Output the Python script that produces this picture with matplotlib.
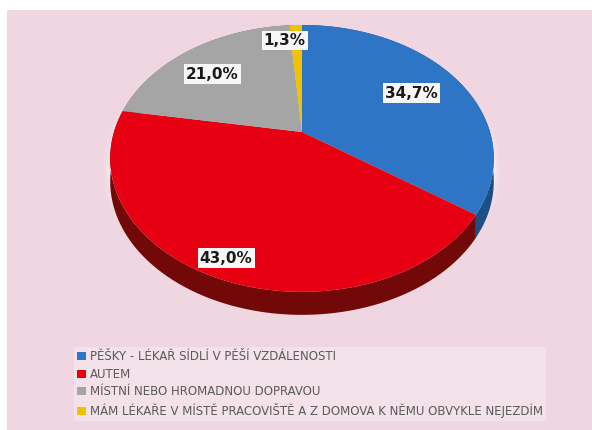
import numpy as np
import matplotlib.pyplot as plt
from matplotlib.patches import Patch, Rectangle

labels = ['PĚŠKY - LÉKAŘ SÍDLÍ V PĚŠÍ VZDÁLENOSTI',
          'AUTEM',
          'MÍSTNÍ NEBO HROMADNOU DOPRAVOU',
          'MÁM LÉKAŘE V MÍSTĚ PRACOVIŠTĚ A Z DOMOVA K NĚMU OBVYKLE NEJEZDÍM']
shares = [34.7, 43.0, 21.0, 1.3]
pct_text = ['34,7%', '43,0%', '21,0%', '1,3%']
colors = ['#2E75C6', '#E60012', '#A5A5A5', '#F2C200']
side_colors = ['#1D4E86', '#720808', '#6E6E6E', '#A08000']

# label placement on the disk (radius, angle nudge in degrees)
label_r = [0.70, 0.89, 0.72, 0.84]
label_dang = [0, 0, 4, 5]

W, H = 592, 430
fig = plt.figure(figsize=(W / 100, H / 100), dpi=100)
fig.patch.set_facecolor('white')
fig.add_artist(Rectangle((7 / W, 0), 1 - 7 / W, 1 - 10 / H, transform=fig.transFigure,
                         facecolor='#EFD6E0', edgecolor='none', zorder=-10))

ax = fig.add_axes([0, 0, 1, 1])
ax.set_xlim(0, W)
ax.set_ylim(H, 0)
ax.axis('off')

# perspective view of a tilted disk
cx, cy = 302, 132     # apex of the slices
sx, sy = 188, 128.2   # scale
persp = 0.198         # far side shrinks
depth = 23            # thickness of the pie


def proj(x, y):
    w = 1 + persp * y
    return cx + sx * x / w, cy - sy * y / w


bounds = 90 - 360 * np.concatenate([[0], np.cumsum(shares)]) / 100.0

# soft light halo around the pie
t_all = np.deg2rad(np.linspace(0, 360, 400))
hx, hy = proj(np.cos(t_all), np.sin(t_all))
for lw, al in [(10, 0.12), (6, 0.18), (3, 0.25)]:
    ax.plot(hx, hy + depth / 2, color='white', lw=lw, alpha=al, zorder=0)

# sides first, then top faces
for i in range(len(shares)):
    t = np.deg2rad(np.linspace(bounds[i], bounds[i + 1], 120))
    px, py = proj(np.cos(t), np.sin(t))
    ax.fill(np.r_[px, px[::-1]], np.r_[py, py[::-1] + depth],
            color=side_colors[i], lw=0, zorder=1)

for i in range(len(shares)):
    t = np.deg2rad(np.linspace(bounds[i], bounds[i + 1], 120))
    px, py = proj(np.cos(t), np.sin(t))
    ax.fill(np.r_[cx, px], np.r_[cy, py], color=colors[i], lw=0, zorder=2)

for i, txt in enumerate(pct_text):
    ang = np.deg2rad((bounds[i] + bounds[i + 1]) / 2 + label_dang[i])
    lx, ly = proj(label_r[i] * np.cos(ang), label_r[i] * np.sin(ang))
    ax.text(lx, ly, txt, ha='center', va='center', zorder=3,
            fontsize=11, fontweight='bold', color='#1a1a1a',
            bbox=dict(facecolor='#F7F7F7', edgecolor='none', pad=1.5))

handles = [Patch(facecolor=c, edgecolor='none') for c in colors]
fig.legend(handles, labels, loc='upper left', bbox_to_anchor=(68 / W, 1 - 341 / H),
           frameon=True, fancybox=False, facecolor='#F3E2E9', edgecolor='none',
           framealpha=1, fontsize=8.5, labelcolor='#5A5A5A',
           handlelength=0.7, handleheight=0.7, handletextpad=0.35,
           labelspacing=0.38, borderpad=0.3)

fig.savefig('out.png', dpi=100)
